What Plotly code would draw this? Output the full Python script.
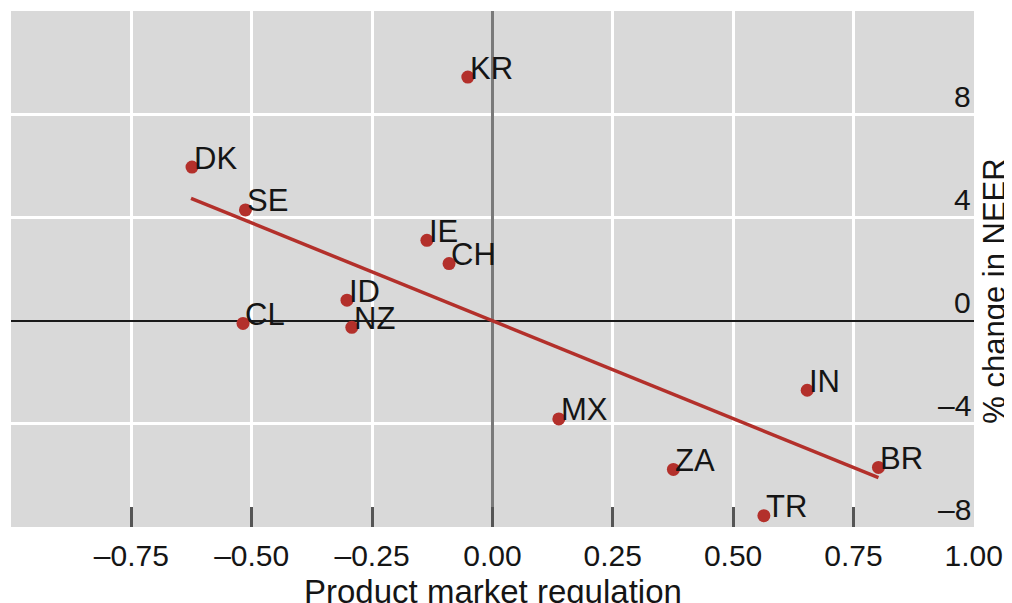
import plotly.graph_objects as go

# Data
countries = ["KR", "DK", "SE", "IE", "CH", "ID", "CL", "NZ", "MX", "IN", "ZA", "BR", "TR"]
pmr = [-0.051, -0.624, -0.513, -0.136, -0.090, -0.302, -0.518, -0.292, 0.138, 0.654, 0.376, 0.802, 0.564]
neer_change = [9.44, 5.95, 4.29, 3.11, 2.21, 0.79, -0.11, -0.26, -3.81, -2.70, -5.77, -5.69, -7.56]

fit_x = [-0.626, 0.802]
fit_y = [4.74, -6.09]

x_tickvals = [-1.0, -0.75, -0.5, -0.25, 0.0, 0.25, 0.5, 0.75, 1.0]
x_ticktext = ["", "–0.75", "–0.50", "–0.25", "0.00", "0.25", "0.50", "0.75", "1.00"]
y_tickvals = [-8, -4, 0, 4, 8]
y_ticktext = ["–8", "–4", "0", "4", "8"]

RED = "#b3302b"
FONT = "Liberation Sans, Arial, sans-serif"
TXT = "#151515"

fig = go.Figure()

fig.add_trace(go.Scatter(
    x=fit_x, y=fit_y, mode="lines",
    line=dict(color=RED, width=3.5), hoverinfo="skip", showlegend=False,
))

fig.add_trace(go.Scatter(
    x=pmr, y=neer_change, mode="markers",
    marker=dict(color=RED, size=13, line=dict(width=0)),
    showlegend=False,
))

for c, xv, yv in zip(countries, pmr, neer_change):
    fig.add_annotation(
        x=xv, y=yv, text=c, showarrow=False,
        xanchor="left", yanchor="middle", xshift=0, yshift=9,
        font=dict(family=FONT, size=31, color=TXT),
    )

# y tick labels placed inside the plot, right-aligned, just above each gridline
for v, t in zip(y_tickvals, y_ticktext):
    fig.add_annotation(
        x=1, xref="paper", y=v, yref="y", text=t, showarrow=False,
        xanchor="right", yanchor="middle", xshift=-1, yshift=18,
        font=dict(family=FONT, size=30, color=TXT),
    )

fig.add_annotation(
    text="Product market regulation", xref="paper", yref="paper",
    x=0.5, y=0, xanchor="center", yanchor="top", yshift=-44,
    showarrow=False, font=dict(family=FONT, size=33, color=TXT),
)
fig.add_annotation(
    text="% change in NEER", xref="paper", yref="paper",
    x=1, y=0.457, xanchor="left", yanchor="middle", xshift=1,
    textangle=-90, showarrow=False,
    font=dict(family=FONT, size=31, color=TXT),
)

fig.update_xaxes(
    range=[-1, 1.0005], tickvals=x_tickvals, ticktext=x_ticktext,
    ticks="inside", ticklen=20, tickwidth=2.5, tickcolor="#555555",
    ticklabelstandoff=8,
    showgrid=True, gridcolor="white", gridwidth=3,
    zeroline=True, zerolinecolor="#7a7a7a", zerolinewidth=2.5,
    showline=False, automargin=False,
    tickfont=dict(family=FONT, size=30, color=TXT),
)
fig.update_yaxes(
    range=[-8, 12], tickvals=y_tickvals, showticklabels=False,
    side="right", ticks="",
    showgrid=True, gridcolor="white", gridwidth=3,
    zeroline=True, zerolinecolor="#1a1a1a", zerolinewidth=2,
    showline=False, automargin=False,
)

# the page adds an 8px body margin, so the figure is offset to match the reference
fig.update_layout(
    width=1012, height=603,
    margin=dict(l=3, r=45.5, t=3, b=84.3),
    plot_bgcolor="#d9d9d9", paper_bgcolor="white",
    showlegend=False,
)

fig.write_html("out.html")
